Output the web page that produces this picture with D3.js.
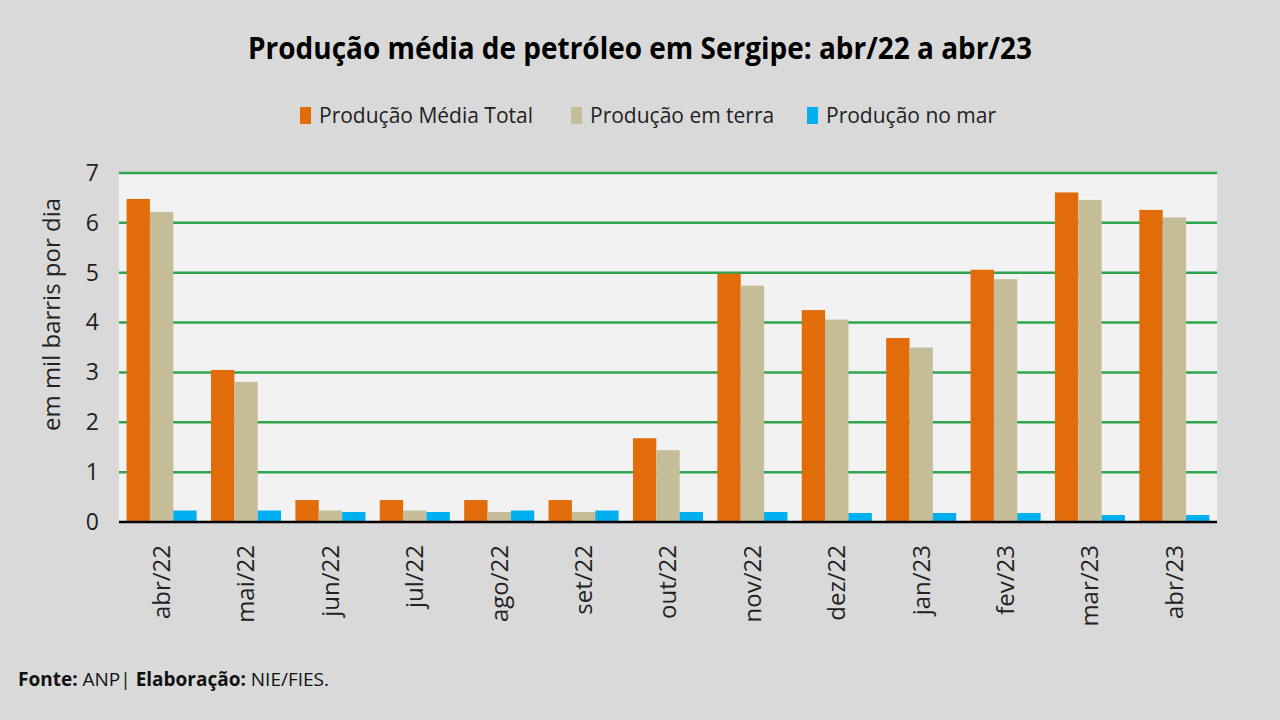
<!DOCTYPE html>
<html>
<head>
<meta charset="utf-8">
<script src="https://cdn.jsdelivr.net/npm/d3@7"></script>
<style>
  body { margin: 0; background: #d9d9d9; }
  text { font-family: "Open Sans", sans-serif; }
</style>
</head>
<body>
<div id="chart"></div>
<script>
/* DATA */
const months = ["abr/22", "mai/22", "jun/22", "jul/22", "ago/22", "set/22", "out/22",
                "nov/22", "dez/22", "jan/23", "fev/23", "mar/23", "abr/23"];
const seriesNames = ["Produção Média Total", "Produção em terra", "Produção no mar"];
const totalValues = [6.48, 3.05, 0.44, 0.44, 0.44, 0.44, 1.68, 4.98, 4.25, 3.69, 5.06, 6.61, 6.26];
const landValues  = [6.22, 2.81, 0.23, 0.23, 0.20, 0.20, 1.44, 4.74, 4.06, 3.50, 4.87, 6.46, 6.11];
const seaValues   = [0.23, 0.23, 0.20, 0.20, 0.23, 0.23, 0.20, 0.20, 0.18, 0.18, 0.18, 0.14, 0.14];
const yTicks = [0, 1, 2, 3, 4, 5, 6, 7];
const colors = ["#e36c0a", "#c4bd97", "#00b0f0"];

/* CONFIG */
const width = 1280, height = 720;
const plot = { left: 119, right: 1217, top: 173, bottom: 522 };

const svg = d3.select("#chart").append("svg")
    .attr("width", width)
    .attr("height", height);

svg.append("rect")
    .attr("width", width).attr("height", height)
    .attr("fill", "#d9d9d9");

// title
svg.append("text")
    .attr("x", 640).attr("y", 59)
    .attr("text-anchor", "middle")
    .attr("textLength", 784)
    .attr("lengthAdjust", "spacingAndGlyphs")
    .style("font-size", "30px")
    .style("font-weight", "bold")
    .style("fill", "#000")
    .text("Produção média de petróleo em Sergipe: abr/22 a abr/23");

// legend
const legendX = [300, 571, 807];
const legend = svg.append("g");
seriesNames.forEach((name, i) => {
    legend.append("rect")
        .attr("x", legendX[i]).attr("y", 107)
        .attr("width", 11).attr("height", 17)
        .attr("fill", colors[i]);
    legend.append("text")
        .attr("x", legendX[i] + 19).attr("y", 123)
        .style("font-size", "21px")
        .style("fill", "#222")
        .text(name);
});

// scales
const x0 = d3.scaleBand()
    .domain(months)
    .range([plot.left, plot.right])
    .paddingInner(0.17)
    .paddingOuter(0.09);

const x1 = d3.scaleBand()
    .domain(d3.range(3))
    .range([0, x0.bandwidth()]);

const y = d3.scaleLinear()
    .domain([0, 7])
    .range([plot.bottom, plot.top]);

// plot background
svg.append("rect")
    .attr("x", plot.left).attr("y", plot.top)
    .attr("width", plot.right - plot.left)
    .attr("height", plot.bottom - plot.top)
    .attr("fill", "#f2f2f2");

// gridlines
svg.append("g")
    .selectAll("line")
    .data(yTicks.filter(d => d > 0))
    .join("line")
    .attr("x1", plot.left).attr("x2", plot.right)
    .attr("y1", d => y(d)).attr("y2", d => y(d))
    .attr("stroke", "#2ea44f")
    .attr("stroke-width", 2.5);

// bars
const rows = months.map((m, i) => ({ month: m, values: [totalValues[i], landValues[i], seaValues[i]] }));

const groups = svg.append("g")
    .selectAll("g")
    .data(rows)
    .join("g")
    .attr("transform", d => `translate(${x0(d.month)},0)`);

groups.selectAll("rect")
    .data(d => d.values.map((v, k) => ({ k, v })))
    .join("rect")
    .attr("x", d => x1(d.k))
    .attr("y", d => y(d.v))
    .attr("width", x1.bandwidth())
    .attr("height", d => y(0) - y(d.v))
    .attr("fill", d => colors[d.k]);

// baseline
svg.append("line")
    .attr("x1", plot.left).attr("x2", plot.right)
    .attr("y1", y(0)).attr("y2", y(0))
    .attr("stroke", "#000")
    .attr("stroke-width", 2.5);

// y axis
const yAxis = svg.append("g")
    .attr("transform", `translate(${plot.left},0)`)
    .call(d3.axisLeft(y).tickValues(yTicks).tickFormat(d3.format("d")).tickSize(0).tickPadding(20));
yAxis.select(".domain").remove();
yAxis.selectAll("text")
    .style("font-size", "23px")
    .style("fill", "#222")
    .style("font-family", "'Open Sans', sans-serif");

svg.append("text")
    .attr("transform", `translate(50,${(plot.top + plot.bottom) / 2 - 33}) rotate(-90)`)
    .attr("text-anchor", "middle")
    .attr("dominant-baseline", "central")
    .style("font-size", "24px")
    .style("fill", "#222")
    .text("em mil barris por dia");

// x axis
const xAxis = svg.append("g")
    .attr("transform", `translate(0,${plot.bottom})`)
    .call(d3.axisBottom(x0).tickSize(0).tickPadding(0));
xAxis.select(".domain").remove();
xAxis.selectAll("text")
    .attr("transform", "rotate(-90)")
    .attr("x", -23)
    .attr("y", 0)
    .attr("dy", "0.35em")
    .attr("text-anchor", "end")
    .style("font-size", "24px")
    .style("fill", "#222")
    .style("font-family", "'Open Sans', sans-serif");

// footer
const foot = svg.append("text")
    .attr("x", 18).attr("y", 686)
    .style("font-size", "19px")
    .style("fill", "#111");
foot.append("tspan").style("font-weight", "bold").text("Fonte: ");
foot.append("tspan").text("ANP| ");
foot.append("tspan").style("font-weight", "bold").text("Elaboração: ");
foot.append("tspan").text("NIE/FIES.");
</script>
</body>
</html>
